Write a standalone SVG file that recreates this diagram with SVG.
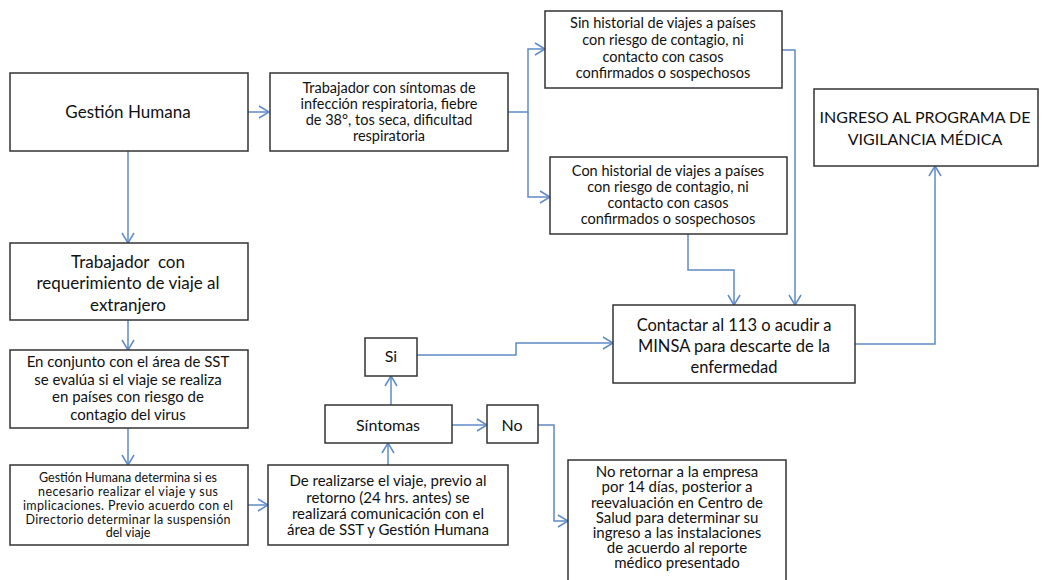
<svg xmlns="http://www.w3.org/2000/svg" width="1042" height="580" viewBox="0 0 1042 580">
<style>
.box{fill:#fff;stroke:#333;stroke-width:1.5}
.t{font-family:Lato,"Open Sans",sans-serif;fill:#111;text-anchor:middle}
.c{fill:none;stroke:#5f8bc6;stroke-width:1.5}
</style>
<defs>
<marker id="a" markerUnits="userSpaceOnUse" markerWidth="14" markerHeight="16" refX="11" refY="7" orient="auto" viewBox="0 0 14 14">
<path d="M1,1 L11,7 L1,13" fill="none" stroke="#5f8bc6" stroke-width="1.5"/>
</marker>
</defs>
<rect width="1042" height="580" fill="#fff"/>
<g id="connectors">
<path class="c" d="M248,112 H269" marker-end="url(#a)"/>
<path class="c" d="M508,112 H528 V49 H545" marker-end="url(#a)"/>
<path class="c" d="M528,112 V197 H550" marker-end="url(#a)"/>
<path class="c" d="M782,50 H795 V305" marker-end="url(#a)"/>
<path class="c" d="M688,234 V270 H734 V305" marker-end="url(#a)"/>
<path class="c" d="M855,344 H935 V166" marker-end="url(#a)"/>
<path class="c" d="M128,151 V243" marker-end="url(#a)"/>
<path class="c" d="M128,320 V350" marker-end="url(#a)"/>
<path class="c" d="M128,428 V465" marker-end="url(#a)"/>
<path class="c" d="M248,505 H268" marker-end="url(#a)"/>
<path class="c" d="M388,465 V443" marker-end="url(#a)"/>
<path class="c" d="M391,405 V376" marker-end="url(#a)"/>
<path class="c" d="M417,355 H516 V343 H613" marker-end="url(#a)"/>
<path class="c" d="M452,425 H487" marker-end="url(#a)"/>
<path class="c" d="M538,425 H554 V521 H568" marker-end="url(#a)"/>
</g>
<g id="gestion-humana">
<rect class="box" x="10" y="73" width="238" height="78"/>
<text class="t" x="128" y="118" font-size="17">Gestión Humana</text>
</g>
<g id="trabajador-sintomas">
<rect class="box" x="270" y="73" width="238" height="78"/>
<text class="t" font-size="14.5"><tspan x="389" y="93">Trabajador con síntomas de</tspan><tspan x="389" y="109">infección respiratoria, fiebre</tspan><tspan x="389" y="125">de 38°, tos seca, dificultad</tspan><tspan x="389" y="141">respiratoria</tspan></text>
</g>
<g id="sin-historial">
<rect class="box" x="545" y="11" width="237" height="77"/>
<text class="t" font-size="14.5"><tspan x="663" y="28">Sin historial de viajes a países</tspan><tspan x="663" y="45">con riesgo de contagio, ni</tspan><tspan x="663" y="62">contacto con casos</tspan><tspan x="663" y="78">confirmados o sospechosos</tspan></text>
</g>
<g id="con-historial">
<rect class="box" x="550" y="157" width="237" height="77"/>
<text class="t" font-size="14.5"><tspan x="668" y="176">Con historial de viajes a países</tspan><tspan x="668" y="192">con riesgo de contagio, ni</tspan><tspan x="668" y="208">contacto con casos</tspan><tspan x="668" y="224">confirmados o sospechosos</tspan></text>
</g>
<g id="ingreso">
<rect class="box" x="814" y="89" width="224" height="77"/>
<text class="t" font-size="16"><tspan x="925" y="123">INGRESO AL PROGRAMA DE</tspan><tspan x="925" y="145">VIGILANCIA MÉDICA</tspan></text>
</g>
<g id="contactar">
<rect class="box" x="613" y="305" width="242" height="78"/>
<text class="t" font-size="16.5"><tspan x="734" y="331">Contactar al 113 o acudir a</tspan><tspan x="734" y="352">MINSA para descarte de la</tspan><tspan x="734" y="373">enfermedad</tspan></text>
</g>
<g id="trabajador-viaje">
<rect class="box" x="10" y="243" width="238" height="77"/>
<text class="t" font-size="17" xml:space="preserve"><tspan x="128" y="268">Trabajador  con</tspan><tspan x="128" y="289">requerimiento de viaje al</tspan><tspan x="128" y="311">extranjero</tspan></text>
</g>
<g id="en-conjunto">
<rect class="box" x="10" y="350" width="238" height="78"/>
<text class="t" font-size="15"><tspan x="128" y="367">En conjunto con el área de SST</tspan><tspan x="128" y="385">se evalúa si el viaje se realiza</tspan><tspan x="128" y="402">en países con riesgo de</tspan><tspan x="128" y="420">contagio del virus</tspan></text>
</g>
<g id="gestion-determina">
<rect class="box" x="10" y="465" width="238" height="80"/>
<text class="t" font-size="12.5"><tspan x="128" y="482" textLength="178" lengthAdjust="spacing">Gestión Humana determina si es</tspan><tspan x="128" y="496" textLength="180" lengthAdjust="spacing">necesario realizar el viaje y sus</tspan><tspan x="128" y="510" textLength="210" lengthAdjust="spacing">implicaciones. Previo acuerdo con el</tspan><tspan x="128" y="524" textLength="205" lengthAdjust="spacing">Directorio determinar la suspensión</tspan><tspan x="128" y="537">del viaje</tspan></text>
</g>
<g id="de-realizarse">
<rect class="box" x="268" y="465" width="240" height="80"/>
<text class="t" font-size="15"><tspan x="388" y="486">De realizarse el viaje, previo al</tspan><tspan x="388" y="503">retorno (24 hrs. antes) se</tspan><tspan x="388" y="519">realizará comunicación con el</tspan><tspan x="388" y="535">área de SST y Gestión Humana</tspan></text>
</g>
<g id="sintomas">
<rect class="box" x="325" y="405" width="127" height="38"/>
<text class="t" x="388" y="431" font-size="16">Síntomas</text>
</g>
<g id="si">
<rect class="box" x="365" y="338" width="52" height="38"/>
<text class="t" x="391" y="362" font-size="16">Si</text>
</g>
<g id="no">
<rect class="box" x="487" y="405" width="51" height="38"/>
<text class="t" x="512" y="431" font-size="16">No</text>
</g>
<g id="no-retornar">
<rect class="box" x="568" y="460" width="218" height="126"/>
<text class="t" font-size="15"><tspan x="677" y="477">No retornar a la empresa</tspan><tspan x="677" y="492">por 14 días, posterior a</tspan><tspan x="677" y="508">reevaluación en Centro de</tspan><tspan x="677" y="523">Salud para determinar su</tspan><tspan x="677" y="538">ingreso a las instalaciones</tspan><tspan x="677" y="553">de acuerdo al reporte</tspan><tspan x="677" y="568">médico presentado</tspan></text>
</g>
</svg>
